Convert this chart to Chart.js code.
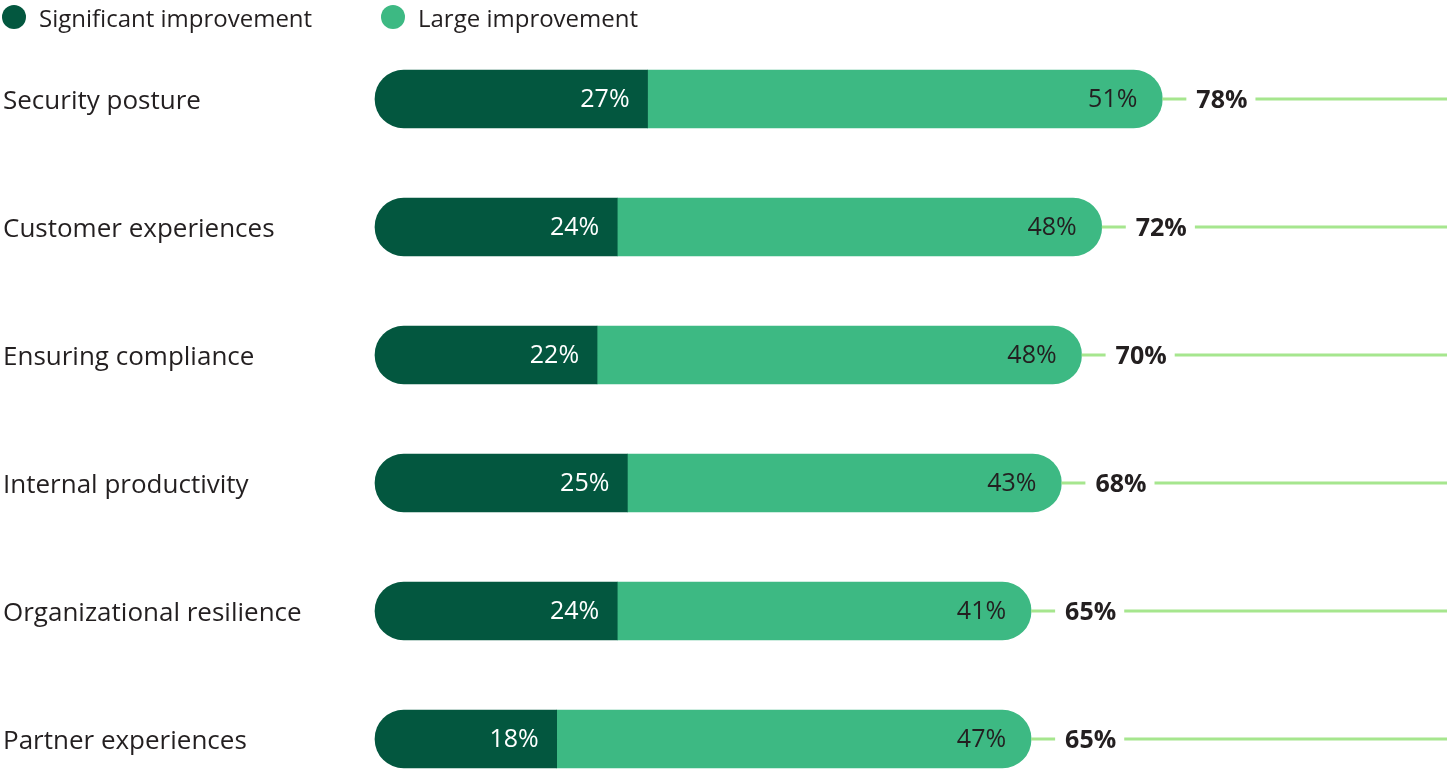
<!DOCTYPE html>
<html>
<head>
<meta charset="utf-8">
<script src="https://cdn.jsdelivr.net/npm/chart.js@4"></script>
<style>
  html, body { margin: 0; padding: 0; background: #fff; }
  #wrap { position: relative; width: 1447px; height: 770px; }
  #legend { position: absolute; left: 2px; top: 3px; display: flex; font-family: 'Open Sans', sans-serif; font-size: 24px; color: #231f20; }
  #legend .item { display: flex; align-items: center; width: 379px; height: 28px; }
  #legend .dot { width: 24px; height: 24px; border-radius: 50%; margin-right: 13px; flex: none; }
</style>
</head>
<body>
<div id="wrap">
  <canvas id="barChart"></canvas>
  <div id="legend"></div>
</div>
<script>
// data
const categories = ["Security posture", "Customer experiences", "Ensuring compliance", "Internal productivity", "Organizational resilience", "Partner experiences"];
const significant = [27, 24, 22, 25, 24, 18];
const large = [51, 48, 48, 43, 41, 47];
const totals = [78, 72, 70, 68, 65, 65];

const darkGreen = "#03573f";
const midGreen = "#3db983";
const lineGreen = "#a6e68e";
const textColor = "#231f20";
const fontFamily = "'Open Sans', sans-serif";

// labels inside the bars + totals with the guide line
const barLabels = {
  id: "barLabels",
  afterDatasetsDraw(chart) {
    const ctx = chart.ctx;
    const dark = chart.getDatasetMeta(0).data;
    const light = chart.getDatasetMeta(1).data;
    ctx.save();
    ctx.textBaseline = "middle";
    dark.forEach((bar, i) => {
      ctx.font = "25px " + fontFamily;
      ctx.textAlign = "right";
      ctx.fillStyle = "#ffffff";
      ctx.fillText(significant[i] + "%", bar.x - 18, bar.y + 1);
      const lb = light[i];
      ctx.fillStyle = textColor;
      ctx.fillText(large[i] + "%", lb.x - 25, lb.y + 1);

      // total
      ctx.font = "bold 25px " + fontFamily;
      ctx.textAlign = "left";
      const txt = totals[i] + "%";
      const w = ctx.measureText(txt).width;
      const tx = lb.x + 34;
      ctx.fillText(txt, tx, lb.y + 2);
      ctx.strokeStyle = lineGreen;
      ctx.lineWidth = 3;
      ctx.beginPath();
      ctx.moveTo(lb.x, lb.y);
      ctx.lineTo(tx - 10, lb.y);
      ctx.moveTo(tx + w + 8, lb.y);
      ctx.lineTo(chart.chartArea.right, lb.y);
      ctx.stroke();
    });
    ctx.restore();
  },
};

// legend built from the chart's own legend items
const htmlLegend = {
  id: "htmlLegend",
  afterUpdate(chart) {
    const box = document.getElementById("legend");
    box.innerHTML = "";
    const items = chart.options.plugins.legend.labels.generateLabels(chart);
    items.forEach((item) => {
      const el = document.createElement("div");
      el.className = "item";
      el.innerHTML = `<span class="dot" style="background:${item.fillStyle}"></span><span>${item.text}</span>`;
      box.appendChild(el);
    });
  },
};

new Chart(document.getElementById("barChart"), {
  type: "bar",
  data: {
    labels: categories,
    datasets: [
      {
        label: "Significant improvement",
        data: significant,
        backgroundColor: darkGreen,
        borderSkipped: false,
        borderRadius: { topLeft: 29, bottomLeft: 29, topRight: 0, bottomRight: 0 },
        barThickness: 58,
        clip: false,
      },
      {
        label: "Large improvement",
        data: large,
        backgroundColor: midGreen,
        borderSkipped: false,
        borderRadius: { topLeft: 0, bottomLeft: 0, topRight: 29, bottomRight: 29 },
        barThickness: 58,
        clip: false,
      },
    ],
  },
  options: {
    indexAxis: "y",
    responsive: true,
    maintainAspectRatio: false,
    animation: false,
    layout: { padding: { left: 3, right: 0, top: 99, bottom: 31 } },
    scales: {
      x: { stacked: true, display: false, min: 0, max: 106.2 },
      y: {
        stacked: true,
        offset: false,
        grid: { display: false },
        border: { display: false },
        ticks: {
          crossAlign: "far",
          padding: 0,
          labelOffset: 3,
          color: textColor,
          font: { family: fontFamily, size: 26 },
        },
        afterFit(scale) {
          scale.width = 372;
        },
      },
    },
    plugins: {
      tooltip: { enabled: false },
      legend: { display: false },
    },
  },
  plugins: [barLabels, htmlLegend],
});
</script>
</body>
</html>
